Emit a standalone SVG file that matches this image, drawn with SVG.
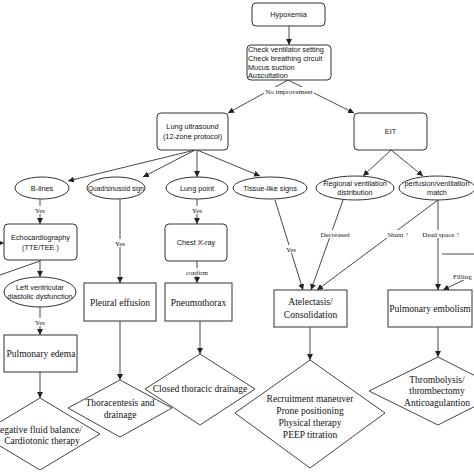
<svg xmlns="http://www.w3.org/2000/svg" width="474" height="474" viewBox="0 0 474 474">
<defs>
<marker id="ah" viewBox="0 0 10 10" refX="10" refY="5" markerWidth="6" markerHeight="6" orient="auto" markerUnits="userSpaceOnUse"><path d="M0,0 L10,5 L0,10 z" fill="#222"/></marker>
<style>
.rb{fill:#fff;stroke:#333;stroke-width:1}
.sq{fill:#fff;stroke:#333;stroke-width:1}
.ov{fill:#fff;stroke:#333;stroke-width:1}
.dm{fill:#fff;stroke:#444;stroke-width:1}
.s{font-family:"Liberation Sans",Arial,sans-serif;font-size:7.3px;fill:#111}
.r{font-family:"Liberation Serif","Times New Roman",serif;font-size:9.5px;fill:#111}
.l{font-family:"Liberation Serif","Times New Roman",serif;font-size:7px;fill:#222}
.c{text-anchor:middle}
.e{stroke:#333;stroke-width:0.9;fill:none}
.a{marker-end:url(#ah)}
.bg{fill:#fff}
</style>
</defs>
<rect width="474" height="474" fill="#fff"/>
<g id="connectors">
<line class="e a" x1="289" y1="26" x2="289" y2="45"/>
<line class="e a" x1="288" y1="80" x2="228" y2="113"/>
<line class="e a" x1="288" y1="80" x2="354" y2="113"/>
<line class="e a" x1="195" y1="150" x2="68" y2="181"/>
<line class="e a" x1="195" y1="150" x2="143" y2="177"/>
<line class="e a" x1="197" y1="150" x2="197" y2="177"/>
<line class="e a" x1="197" y1="150" x2="260" y2="176"/>
<line class="e a" x1="391" y1="150" x2="363" y2="176"/>
<line class="e a" x1="391" y1="150" x2="423" y2="176"/>
<line class="e a" x1="40" y1="199" x2="40" y2="224"/>
<line class="e a" x1="-5" y1="243" x2="4" y2="243"/>
<line class="e" x1="0" y1="275" x2="40" y2="261"/>
<line class="e a" x1="40" y1="260" x2="40" y2="277"/>
<line class="e a" x1="40" y1="307" x2="40" y2="335"/>
<line class="e a" x1="40" y1="372" x2="40" y2="398"/>
<line class="e a" x1="120" y1="199" x2="120" y2="283"/>
<line class="e a" x1="120" y1="321" x2="120" y2="380"/>
<line class="e a" x1="197" y1="199" x2="197" y2="224"/>
<line class="e a" x1="197" y1="261" x2="197" y2="283"/>
<line class="e a" x1="200" y1="321" x2="200" y2="354"/>
<line class="e a" x1="275" y1="200" x2="303" y2="290"/>
<line class="e a" x1="343" y1="200" x2="311" y2="290"/>
<line class="e a" x1="438" y1="200" x2="317" y2="290"/>
<line class="e a" x1="438" y1="200" x2="438" y2="290"/>
<line class="e" x1="442" y1="254" x2="474" y2="254"/>
<line class="e a" x1="480" y1="272" x2="443" y2="290"/>
<line class="e a" x1="310" y1="327" x2="310" y2="360"/>
<line class="e a" x1="438" y1="327" x2="438" y2="357"/>
<rect class="bg" x="264" y="87" width="50" height="8"/>
<text class="l c" x="289" y="94">No improvement</text>
<rect class="bg" x="34" y="206" width="12" height="8"/>
<text class="l c" x="40" y="213">Yes</text>
<rect class="bg" x="34" y="318" width="12" height="8"/>
<text class="l c" x="40" y="325">Yes</text>
<rect class="bg" x="114" y="239" width="12" height="8"/>
<text class="l c" x="120" y="246">Yes</text>
<rect class="bg" x="191" y="206" width="12" height="8"/>
<text class="l c" x="197" y="213">Yes</text>
<rect class="bg" x="186" y="268" width="22" height="8"/>
<text class="l c" x="197" y="275">confirm</text>
<rect class="bg" x="284" y="245" width="14" height="8"/>
<text class="l c" x="291" y="252">Yes</text>
<rect class="bg" x="319" y="230" width="31" height="8"/>
<text class="l c" x="335" y="237">Decreased</text>
<rect class="bg" x="385" y="230" width="26" height="8"/>
<text class="l c" x="398" y="237">Shunt ↑</text>
<rect class="bg" x="420" y="230" width="42" height="8"/>
<text class="l c" x="441" y="237">Dead space ↑</text>
<rect class="bg" x="452" y="272" width="24" height="8"/>
<text class="l" x="453" y="279">Filling</text>
</g>
<g id="hypoxemia"><rect class="rb" x="252" y="3" width="73" height="23" rx="4"/><text class="s c" x="288.5" y="17">Hypoxemia</text></g>
<g id="check"><rect class="rb" x="247" y="45" width="84" height="35" rx="4"/><text class="s" x="248" y="52">Check ventilator setting</text><text class="s" x="248" y="61">Check breathing circuit</text><text class="s" x="248" y="70">Mucus suction</text><text class="s" x="248" y="78">Auscultation</text></g>
<g id="lung-ultrasound"><rect class="rb" x="157" y="113" width="71" height="37" rx="4"/><text class="s c" x="192.5" y="129">Lung ultrasound</text><text class="s c" x="192.5" y="139">(12-zone protocol)</text></g>
<g id="eit"><rect class="rb" x="354" y="113" width="73" height="37" rx="4"/><text class="s c" x="390.5" y="134">EIT</text></g>
<g id="b-lines"><ellipse class="ov" cx="42" cy="188" rx="27" ry="11"/><text class="s c" x="42" y="190.5">B-lines</text></g>
<g id="quad"><ellipse class="ov" cx="116" cy="188" rx="29" ry="11"/><text class="s c" x="116" y="190.5" font-size="6.6" style="font-size:6.6px">Quad/sinusoid sign</text></g>
<g id="lung-point"><ellipse class="ov" cx="197" cy="188" rx="31" ry="11"/><text class="s c" x="197" y="190.5">Lung point</text></g>
<g id="tissue"><ellipse class="ov" cx="270" cy="188" rx="37" ry="11"/><text class="s c" x="270" y="190.5">Tissue-like signs</text></g>
<g id="regional"><ellipse class="ov" cx="355" cy="188" rx="39" ry="12"/><text class="s c" x="355" y="186">Regional ventilation</text><text class="s c" x="355" y="195">distribution</text></g>
<g id="perfusion"><ellipse class="ov" cx="437" cy="188" rx="38" ry="12"/><text class="s c" x="437" y="186">perfusion/ventilation</text><text class="s c" x="437" y="195">match</text></g>
<g id="echo"><rect class="rb" x="4" y="224" width="73" height="36" rx="4"/><text class="s c" x="40.5" y="240">Echocardiography</text><text class="s c" x="40.5" y="250">(TTE/TEE )</text></g>
<g id="lv"><ellipse class="ov" cx="40" cy="292" rx="36" ry="15"/><text class="s c" x="40" y="290">Left ventricular</text><text class="s c" x="40" y="299">diastolic dysfunction</text></g>
<g id="pulmonary-edema"><rect class="sq" x="4" y="335" width="73" height="37"/><text class="r c" x="41" y="357">Pulmonary edema</text></g>
<g id="pleural"><rect class="sq" x="84" y="283" width="72" height="38"/><text class="r c" x="120" y="306">Pleural effusion</text></g>
<g id="chest"><rect class="rb" x="165" y="224" width="62" height="37" rx="4"/><text class="s c" x="196" y="245">Chest X-ray</text></g>
<g id="pneumothorax"><rect class="sq" x="165" y="283" width="67" height="38"/><text class="r c" x="198.5" y="306">Pneumothorax</text></g>
<g id="atelectasis"><rect class="sq" x="274" y="290" width="73" height="37"/><text class="r c" x="310.5" y="305">Atelectasis/</text><text class="r c" x="310.5" y="318">Consolidation</text></g>
<g id="pulmonary-embolism"><rect class="sq" x="388" y="290" width="84" height="37"/><text class="r c" x="430" y="312">Pulmonary embolism</text></g>
<g id="fluid-therapy"><polygon class="dm" points="40,398 100,434 40,470 -20,434"/><text class="r" x="0" y="433">egative fluid balance/</text><text class="r c" x="42" y="444">Cardiotonic therapy</text></g>
<g id="thoracentesis"><polygon class="dm" points="120,380 172,408 120,437 68,408"/><text class="r c" x="120" y="406">Thoracentesis and</text><text class="r c" x="120" y="418">drainage</text></g>
<g id="closed-drainage"><polygon class="dm" points="200,354 255,389 200,425 145,389"/><text class="r c" x="200" y="392">Closed thoracic drainage</text></g>
<g id="recruitment"><polygon class="dm" points="310,360 385,413 310,468 235,413"/><text class="r c" x="310" y="402">Recruitment maneuver</text><text class="r c" x="310" y="414">Prone positioning</text><text class="r c" x="310" y="426">Physical therapy</text><text class="r c" x="310" y="438">PEEP titration</text></g>
<g id="thrombolysis"><polygon class="dm" points="438,357 505,391 438,425 369,391"/><text class="r c" x="437" y="383">Thrombolysis/</text><text class="r c" x="437" y="394">thrombectomy</text><text class="r c" x="437" y="406">Anticoagulantion</text></g>
</svg>
